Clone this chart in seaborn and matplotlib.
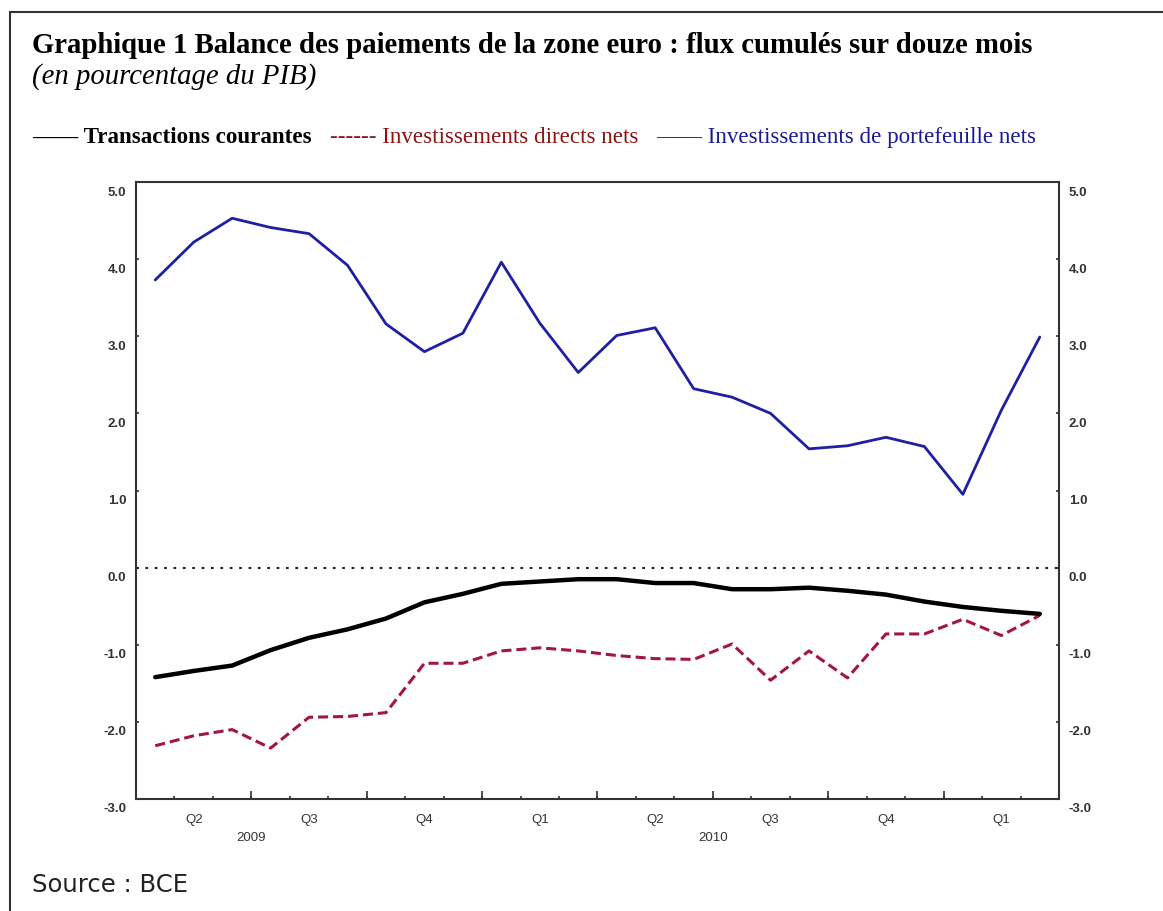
import numpy as np
import pandas as pd
import matplotlib
matplotlib.use("Agg")
import matplotlib.pyplot as plt
import seaborn as sns
from matplotlib import transforms

# Données mensuelles avr. 2009 - mars 2011 (en % du PIB)
mois = ["avr-09", "mai-09", "juin-09", "juil-09", "août-09", "sept-09",
        "oct-09", "nov-09", "déc-09", "janv-10", "févr-10", "mars-10",
        "avr-10", "mai-10", "juin-10", "juil-10", "août-10", "sept-10",
        "oct-10", "nov-10", "déc-10", "janv-11", "févr-11", "mars-11"]

transactions_courantes = [-1.42, -1.34, -1.27, -1.07, -0.91, -0.80,
                          -0.66, -0.45, -0.34, -0.21, -0.18, -0.15,
                          -0.15, -0.20, -0.20, -0.28, -0.28, -0.26,
                          -0.30, -0.35, -0.44, -0.51, -0.56, -0.60]

invest_directs = [-2.31, -2.18, -2.10, -2.34, -1.94, -1.93,
                  -1.88, -1.24, -1.24, -1.08, -1.04, -1.08,
                  -1.14, -1.18, -1.19, -0.99, -1.46, -1.08,
                  -1.43, -0.86, -0.86, -0.67, -0.88, -0.62]

invest_portefeuille = [3.73, 4.22, 4.53, 4.41, 4.33, 3.92,
                       3.16, 2.80, 3.04, 3.96, 3.17, 2.53,
                       3.01, 3.11, 2.32, 2.21, 2.00, 1.54,
                       1.58, 1.69, 1.57, 0.95, 2.04, 2.99]

series = ["Transactions courantes", "Investissements directs nets",
          "Investissements de portefeuille nets"]

trimestres = ["Q2", "Q3", "Q4", "Q1", "Q2", "Q3", "Q4", "Q1"]
annees = ["2009", "2010"]
y_ticks = [5.0, 4.0, 3.0, 2.0, 1.0, 0.0, -1.0, -2.0, -3.0]

df = pd.DataFrame({
    "position": np.arange(len(mois)),
    "mois": mois,
    series[0]: transactions_courantes,
    series[1]: invest_directs,
    series[2]: invest_portefeuille,
})

sns.set_theme(style="white")
plt.rcParams["font.family"] = ["Liberation Sans", "DejaVu Sans"]

W, H = 1163, 911
fig = plt.figure(figsize=(W / 100, H / 100), dpi=100)
ax = fig.add_axes([136 / W, 1 - 799 / H, (1059 - 136) / W, (799 - 182) / H])

line_col = {series[0]: "#000000", series[1]: "#a3173f", series[2]: "#1f1fa3"}
text_col = {series[0]: "#000000", series[1]: "#8e1414", series[2]: "#1a1a96"}
lw = {series[0]: 3.2, series[1]: 2.2, series[2]: 2.0}
ls = {series[0]: "-", series[1]: (0, (3.3, 1.6)), series[2]: "-"}

ax.axhline(0, color="#222222", linewidth=1.5, linestyle=(0, (1.3, 3.2)), zorder=1)

for name in [series[1], series[0], series[2]]:
    sns.lineplot(data=df, x="position", y=name, ax=ax, color=line_col[name],
                 linewidth=lw[name], linestyle=ls[name], legend=False, zorder=3)

n = len(mois)
ax.set_xlim(-0.5, n - 0.5)
ax.set_ylim(-3, 5)
ax.set_xlabel("")
ax.set_ylabel("")

for sp in ax.spines.values():
    sp.set_color("#333333")
    sp.set_linewidth(1.5)

# axe y : étiquettes à gauche et à droite, légèrement décalées vers le bas
ax.set_yticks(y_ticks)
ax.set_yticklabels([f"{v:.1f}" for v in y_ticks])
ax.tick_params(axis="y", which="major", direction="in", length=2, width=1.2,
               left=True, right=True, labelleft=True, labelright=True,
               pad=7, labelsize=9.5, labelcolor="#333333", color="#333333")
offset = transforms.ScaledTranslation(0, -9 / 100, fig.dpi_scale_trans)
for t in ax.yaxis.get_major_ticks():
    t.label1.set_transform(t.label1.get_transform() + offset)
    t.label2.set_transform(t.label2.get_transform() + offset)
    t.label1.set_fontweight("bold")
    t.label2.set_fontweight("bold")

# axe x : mois (petits traits), trimestres (grands traits), libellés
q_centres = np.arange(1, n, 3)
ax.set_xticks(q_centres)
ax.set_xticklabels(trimestres)
ax.set_xticks(np.arange(0.5, n - 1, 1.0), minor=True)
ax.tick_params(axis="x", which="major", length=0, pad=11, labelsize=9.5,
               labelcolor="#333333")
ax.tick_params(axis="x", which="minor", direction="in", length=2.4, width=1.2,
               color="#333333", bottom=True)

sec_q = ax.secondary_xaxis("bottom")
sec_q.set_xticks(np.arange(2.5, n - 1, 3.0))
sec_q.set_xticklabels([])
sec_q.tick_params(direction="in", length=6, width=1.2, color="#333333")
sec_q.spines["bottom"].set_visible(False)

sec_y = ax.secondary_xaxis("bottom")
sec_y.set_xticks([2.5, 14.5])
sec_y.set_xticklabels(annees)
sec_y.tick_params(length=0, pad=24, labelsize=9.5, labelcolor="#333333")
sec_y.spines["bottom"].set_visible(False)

# titre et sous-titre
fig.text(32 / W, 1 - 53 / H,
         "Graphique 1 Balance des paiements de la zone euro : flux cumulés sur douze mois",
         family="Liberation Serif", fontweight="bold", fontsize=20.7,
         va="baseline", ha="left", color="black")
fig.text(32 / W, 1 - 84 / H, "(en pourcentage du PIB)",
         family="Liberation Serif", style="italic", fontsize=20.7,
         va="baseline", ha="left", color="black")

# légende écrite en texte
renderer = fig.canvas.get_renderer()
markers = {series[0]: "——", series[1]: "------", series[2]: "——"}
x_px = 32
for name in series:
    weight = "bold" if name == series[0] else "normal"
    t = fig.text(x_px / W, 1 - 143 / H, f"{markers[name]} {name}",
                 family="Liberation Serif", fontsize=16.6, fontweight=weight,
                 color=text_col[name], va="baseline", ha="left")
    bb = t.get_window_extent(renderer)
    x_px = bb.x1 + 18

fig.text(32 / W, 1 - 885 / H, "Source : BCE", family="DejaVu Sans",
         fontsize=17.5, color="#222222", va="center", ha="left")

# cadre (haut et gauche)
fig.add_artist(plt.Line2D([10 / W, 1], [1 - 12 / H, 1 - 12 / H],
                          transform=fig.transFigure, color="#333333", lw=1.5))
fig.add_artist(plt.Line2D([10 / W, 10 / W], [0, 1 - 12 / H],
                          transform=fig.transFigure, color="#333333", lw=1.5))

fig.savefig("out.png", dpi=100)
